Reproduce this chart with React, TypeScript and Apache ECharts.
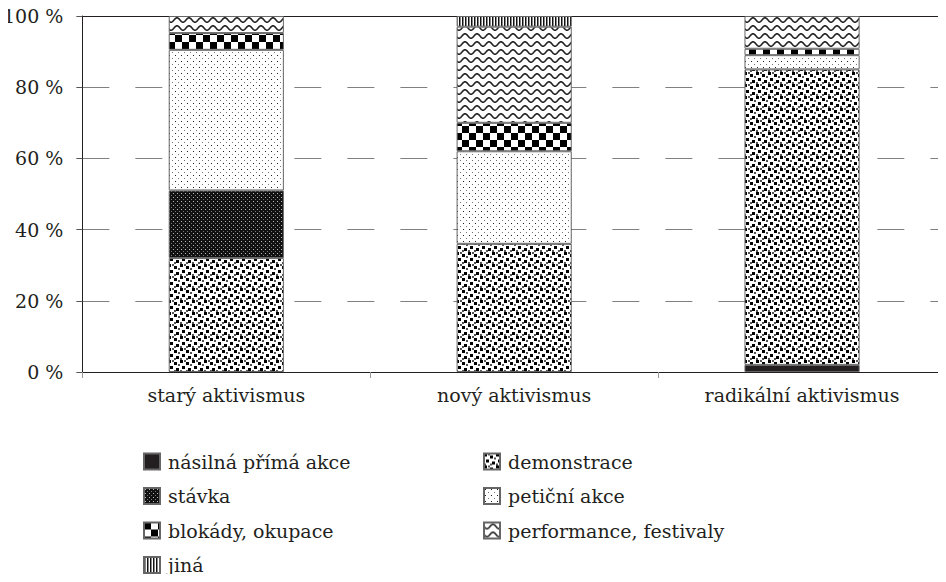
import React, { useEffect, useRef } from "react";
import * as echarts from "echarts";

const categories = ["starý aktivismus", "nový aktivismus", "radikální aktivismus"];
const seriesNames = [
  "násilná přímá akce",
  "demonstrace",
  "stávka",
  "petiční akce",
  "blokády, okupace",
  "performance, festivaly",
  "jiná",
];
const nasilna = [0, 0, 2];
const demonstrace = [32, 36, 83];
const stavka = [19, 0, 0];
const peticni = [39.5, 26, 4];
const blokady = [4.7, 8, 1.8];
const performance = [4.8, 27, 9.2];
const jina = [0, 3, 0];
const yTicks = [0, 20, 40, 60, 80, 100];

const FONT = "DejaVu Serif";
const FS = 19;

function makePattern(w: number, h: number, draw: (c: CanvasRenderingContext2D) => void) {
  const cv = document.createElement("canvas");
  cv.width = w;
  cv.height = h;
  const c = cv.getContext("2d")!;
  c.fillStyle = "#fff";
  c.fillRect(0, 0, w, h);
  draw(c);
  return { image: cv, repeat: "repeat" } as any;
}

function patterns() {
  const solid = "#231f20";
  const stav = makePattern(4, 4, (c) => {
    c.fillStyle = "#111";
    c.fillRect(0, 0, 4, 4);
    c.fillStyle = "#bbb";
    c.fillRect(1, 1, 1, 1);
    c.fillStyle = "#777";
    c.fillRect(3, 3, 1, 1);
  });
  const chk = makePattern(14, 14, (c) => {
    c.fillStyle = "#000";
    c.fillRect(0, 0, 7, 7);
    c.fillRect(7, 7, 7, 7);
  });
  const stripes = makePattern(3, 4, (c) => {
    c.fillStyle = "#111";
    c.fillRect(0, 0, 1, 4);
    c.fillStyle = "#888";
    c.fillRect(1, 0, 1, 4);
  });
  const demo = makePattern(12, 12, (c) => {
    c.fillStyle = "#000";
    c.fillRect(0, 0, 3, 3);
    c.fillRect(6, 2, 3, 3);
    c.fillRect(2, 6, 3, 3);
    c.fillRect(8, 8, 3, 3);
    c.fillStyle = "#555";
    c.fillRect(4, 0, 2, 2);
    c.fillRect(10, 4, 2, 2);
    c.fillRect(0, 10, 2, 2);
    c.fillRect(6, 10, 2, 2);
  });
  const pet = makePattern(6, 6, (c) => {
    c.fillStyle = "#222";
    c.fillRect(1, 1, 1, 1);
    c.fillStyle = "#777";
    c.fillRect(4, 4, 1, 1);
  });
  const wave = makePattern(12, 8, (c) => {
    c.strokeStyle = "#222";
    c.lineWidth = 1.6;
    c.beginPath();
    for (let x = -1; x <= 13; x += 0.5) {
      const y = 4 + 2.2 * Math.sin((2 * Math.PI * x) / 12);
      if (x === -1) c.moveTo(x, y);
      else c.lineTo(x, y);
    }
    c.stroke();
  });
  return [solid, demo, stav, pet, chk, wave, stripes];
}

export default function App() {
  const ref = useRef<HTMLDivElement>(null);
  useEffect(() => {
    const chart = echarts.init(ref.current!, null, { renderer: "svg" });
    const fills = patterns();
    const values = [nasilna, demonstrace, stavka, peticni, blokady, performance, jina];
    const series = seriesNames.map((name, i) => ({
      name,
      type: "bar",
      stack: "total",
      barWidth: "40%",
      xAxisIndex: 0,
      itemStyle: { color: fills[i], borderColor: "#666", borderWidth: 1 },
      data: values[i].map((v) => (v === 0 ? null : v)),
    }));
    const legendText = { fontFamily: FONT, fontSize: FS, color: "#231f20", padding: [0, 0, 0, 3] };
    const legendBase = {
      orient: "vertical",
      top: 452,
      padding: 0,
      icon: "rect",
      itemWidth: 16,
      itemHeight: 16,
      itemGap: 15.5,
      selectedMode: false,
      textStyle: legendText,
    };
    chart.setOption({
      animation: false,
      textStyle: { fontFamily: FONT },
      grid: { left: 77, top: 16, width: 870, height: 356 },
      legend: [
        {
          ...legendBase,
          left: 143,
          data: [seriesNames[0], seriesNames[2], seriesNames[4], seriesNames[6]],
        },
        {
          ...legendBase,
          left: 483,
          data: [seriesNames[1], seriesNames[3], seriesNames[5]],
        },
      ],
      xAxis: [
        {
          type: "category",
          data: categories,
          axisLine: { lineStyle: { color: "#231f20", width: 1 } },
          axisTick: { show: true, length: 6, lineStyle: { color: "#999" } },
          axisLabel: { fontFamily: FONT, fontSize: FS, color: "#231f20", margin: 13 },
        },
        {
          type: "category",
          data: categories,
          position: "top",
          axisLine: { show: true, lineStyle: { color: "#231f20", width: 1 } },
          axisTick: { show: false },
          axisLabel: { show: false },
        },
      ],
      yAxis: {
        type: "value",
        min: yTicks[0],
        max: yTicks[yTicks.length - 1],
        interval: 20,
        axisLine: { show: true, lineStyle: { color: "#231f20", width: 1 } },
        axisTick: { show: true, length: 6, lineStyle: { color: "#555" } },
        axisLabel: {
          fontFamily: FONT,
          fontSize: FS,
          color: "#231f20",
          margin: 19,
          formatter: (v: number) => `${v} %`,
        },
        splitLine: { show: true, lineStyle: { color: "#808080", type: [27, 26], width: 1 } },
      },
      series,
    });
    return () => chart.dispose();
  }, []);
  return <div ref={ref} style={{ width: 946, height: 582, margin: -8 }} />;
}
